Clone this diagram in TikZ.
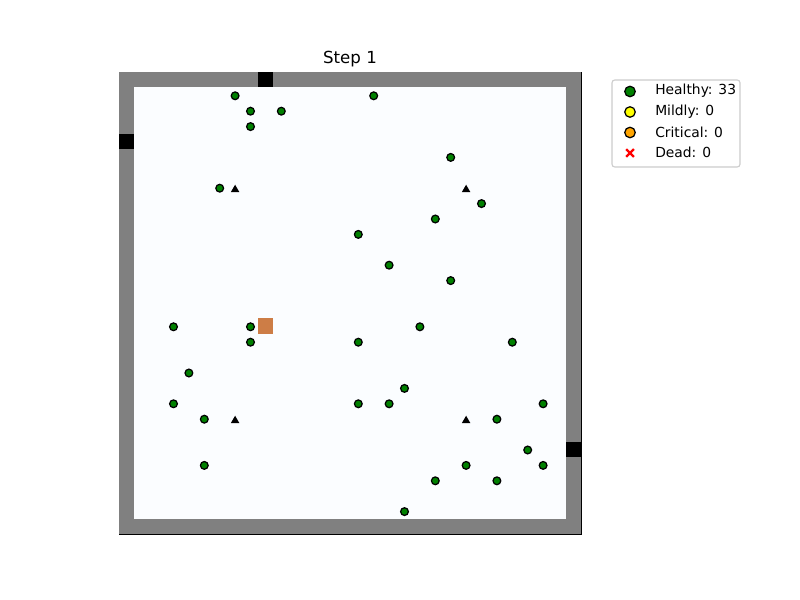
\documentclass[tikz,border=0pt]{standalone}
\usepackage{fontspec}
\setmainfont{DejaVu Sans}
\usetikzlibrary{shapes.geometric}
\definecolor{wallgray}{RGB}{128,128,128}
\definecolor{floorcol}{RGB}{251,253,255}
\definecolor{healthy}{RGB}{0,128,0}
\definecolor{mildcol}{RGB}{255,255,0}
\definecolor{critcol}{RGB}{255,165,0}
\definecolor{firecol}{RGB}{205,125,70}
\definecolor{legedge}{RGB}{204,204,204}
\begin{document}
\begin{tikzpicture}[x=0.01in,y=-0.01in,
  agent/.style={circle, draw=black, fill=healthy, line width=0.9pt, minimum size=5.6pt, inner sep=0pt},
  obst/.style={regular polygon, regular polygon sides=3, fill=black, minimum size=7.2pt, inner sep=0pt},
  legmark/.style={circle, draw=black, line width=0.9pt, minimum size=7.6pt, inner sep=0pt},
  legtext/.style={anchor=west, inner sep=0pt, font=\fontsize{10}{12}\selectfont},
  cellbox/.style={minimum size=11.09pt, inner sep=0pt, outer sep=0pt}]
\useasboundingbox (0,0) rectangle (800,600);
% walls and floor
\fill[wallgray] (119,72) rectangle (581,534);
\fill[floorcol] (134.4,87.4) rectangle (565.6,518.6);
% exits
\node[cellbox, fill=black] (exittop) at ({119+9.5*15.4},{72+0.5*15.4}) {};
\node[cellbox, fill=black] (exitleft) at ({119+0.5*15.4},{72+4.5*15.4}) {};
\node[cellbox, fill=black] (exitright) at ({119+29.5*15.4},{72+24.5*15.4}) {};
% axes lines
\draw[black, line width=0.6pt] (119,534) -- (581,534) -- (581,72);
% fire
\node[cellbox, fill=firecol] (fire) at ({119+9.5*15.4},{72+16.5*15.4}) {};
% obstacles
\foreach \c/\r [count=\i] in {7/7, 22/7, 7/22, 22/22}
  \node[obst] (t\i) at ({119.6+(\c+0.5)*15.4},{72+(\r+0.5)*15.4+2.2}) {};
% agents
\foreach \c/\r [count=\i] in {7/1, 8/2, 10/2, 8/3, 16/1, 21/5, 6/7, 23/8, 20/9, 15/10,
  17/12, 21/13, 3/16, 8/16, 8/17, 19/16, 15/17, 25/17, 4/19, 18/20,
  3/21, 15/21, 17/21, 27/21, 5/22, 24/22, 26/24, 5/25, 22/25, 27/25,
  20/26, 24/26, 18/28}
  \node[agent] (p\i) at ({119.6+(\c+0.5)*15.4},{72.7+(\r+0.5)*15.4}) {};
% title
\node[font=\fontsize{12}{14}\selectfont, inner sep=0pt] (title) at (350,59) {Step 1};
% legend
\draw[legedge, fill=white, line width=0.8pt, rounded corners=2pt] (612,80) rectangle (740,167);
\node[legmark, fill=healthy] (mhealthy) at (630,91.5) {};
\node[legmark, fill=mildcol] (mmild) at (630,112) {};
\node[legmark, fill=critcol] (mcrit) at (630,132.5) {};
\node[minimum size=5.2pt, inner sep=0pt] (mdead) at (630,153) {};
\draw[red, line width=1.7pt] (mdead.north west) -- (mdead.south east) (mdead.north east) -- (mdead.south west);
\node[legtext] (lhealthy) at (655,91) {Healthy: 33};
\node[legtext] (lmild) at (655,111.5) {Mildly: 0};
\node[legtext] (lcrit) at (655,132) {Critical: 0};
\node[legtext] (ldead) at (655,152.5) {Dead: 0};
\end{tikzpicture}
\end{document}
